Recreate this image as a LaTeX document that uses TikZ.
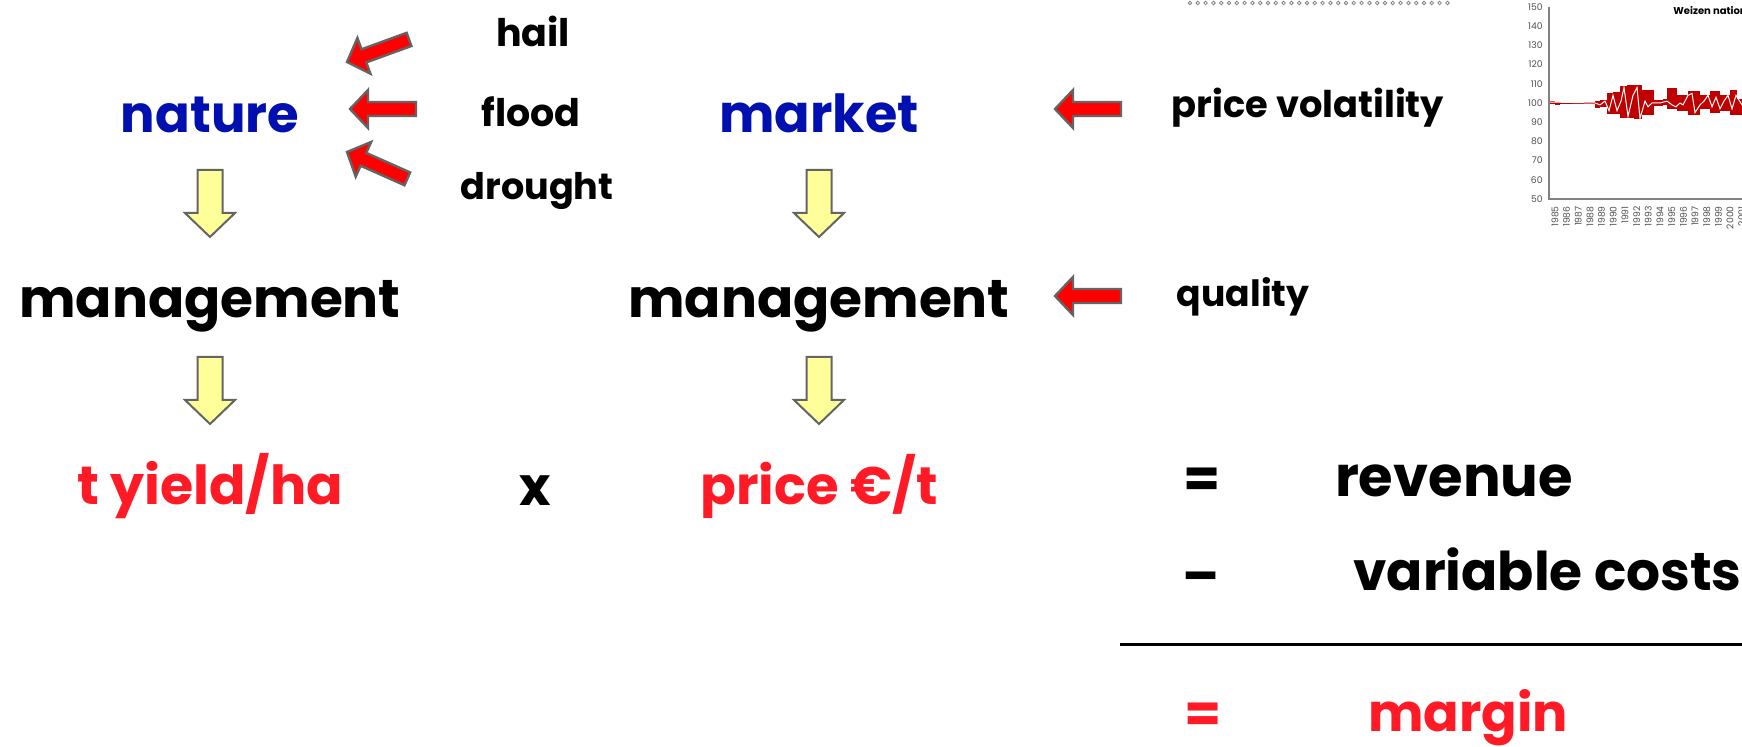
\documentclass[tikz,border=0pt]{standalone}
\usepackage{fontspec}
\setmainfont{Poppins}
\definecolor{natblue}{RGB}{0,15,175}
\definecolor{txtred}{RGB}{255,26,38}
\definecolor{arrred}{RGB}{255,0,0}
\definecolor{arrgray}{RGB}{100,100,100}
\definecolor{yel}{RGB}{255,255,153}
\definecolor{chartred}{RGB}{192,0,0}
\definecolor{axgray}{RGB}{130,130,130}
\definecolor{labgray}{RGB}{80,80,80}
\newcommand{\fsz}[1]{\bfseries\fontsize{#1}{#1}\selectfont}
\begin{document}
\begin{tikzpicture}[x=0.5pt,y=-0.5pt,
  big/.style={inner sep=0pt,anchor=base,font=\fsz{26.7}},
  small/.style={inner sep=0pt,anchor=base,font=\fsz{18.8}},
  redarr/.style={fill=arrred,draw=arrgray,line width=1.2pt,line join=miter},
  yelarr/.style={fill=yel,draw=arrgray,line width=1pt,line join=miter},
  ticklab/.style={inner sep=0pt,anchor=east,text=labgray,font=\fontsize{4.6}{5}\selectfont},
  yrlab/.style={inner sep=0pt,anchor=east,rotate=90,text=labgray,font=\fontsize{4.6}{5}\selectfont},
  pics/redarrow/.style={code={\draw[redarr] (0,0) -- (18,-19) -- (18,-7) -- (66,-7) -- (66,7) -- (18,7) -- (18,19) -- cycle;}},
  pics/yelarrow/.style={code={\draw[yelarr] (-12.5,0) -- (12.5,0) -- (12.5,43) -- (25,43) -- (0,67) -- (-25,43) -- (-12.5,43) -- cycle;}}
]
\clip (0,0) rectangle (1742,747);
\fill[white] (0,0) rectangle (1742,747);

% left column
\node[big,text=natblue,font=\fsz{25.6}] (nature) at (210,133) {nature};
\node[big] (mgmtL) at (210,318) {management};
\node[big,text=txtred,font=\fsz{26.9}] (yield) at (210,505) {t yield/ha};
\pic at (210,170) {yelarrow};
\pic at (210,357) {yelarrow};

% weather
\node[small,font=\fsz{19}] (hail) at (533,47) {hail};
\node[small,font=\fsz{19}] (flood) at (531,127) {flood};
\node[small,font=\fsz{18.3}] (drought) at (537,200) {drought};
\pic[rotate=20] at (347,62) {redarrow};
\pic at (350,109) {redarrow};
\pic[rotate=-24] at (347,152) {redarrow};

% times
\node[big] (times) at (535,506) {x};

% middle column
\node[big,text=natblue,font=\fsz{26.2}] (market) at (819,133) {market};
\node[big] (mgmtR) at (819,318) {management};
\node[big,text=txtred,font=\fsz{26.4}] (price) at (819,505) {price €/t};
\pic at (819,170) {yelarrow};
\pic at (819,357) {yelarrow};

% right side
\pic at (1055,109) {redarrow};
\pic at (1055,296) {redarrow};
\node[small,font=\fsz{18.4}] (vol) at (1308,118) {price volatility};
\node[small,font=\fsz{18.1}] (qual) at (1243,307) {quality};

\node[big,anchor=center] (eq1) at (1202,483) {=};
\node[big,font=\fsz{28}] (rev) at (1454,497) {revenue};
\node[big,anchor=center] (minus) at (1201,583) {–};
\node[big,anchor=base west] (varc) at (1353,591) {variable costs};
\coordinate (lineL) at (1120,645);
\coordinate (lineR) at (1742,645);
\draw[line width=1.5pt] (lineL) -- (lineR);
\node[big,anchor=center,text=txtred] (eq2) at (1203,718) {=};
\node[big,text=txtred,font=\fsz{26.2}] (margin) at (1468,732) {margin};

% tiny circles at top
\foreach \i in {0,...,33} \draw[axgray,line width=0.4pt] ({1190+\i*7.8},3) circle[radius=0.9pt];

% chart
\foreach \xa/\xb/\lo/\hi in {1549/1555/99.5/101,1555/1560/99/100.3,1560/1595/99.7/100.5,1595/1600/97.5/101,1600/1607/98/101.5,1607/1613/94.5/105,1613/1620/94.5/105.5,1620/1627/92/109,1627/1634/92/109.5,1634/1642/91.5/109.5,1642/1648/94/107,1648/1654/94/107,1654/1663/98.5/101.5,1663/1667/99/102,1667/1677/97/108,1677/1688/96/104,1688/1700/94/106.5,1700/1710/97/104,1710/1720/95/106,1720/1730/96/104,1730/1737/94/107,1737/1742/94/102}
  \fill[chartred] (\xa,{295-1.92*\hi}) rectangle (\xb,{295-1.92*\lo});
\draw[white,line width=0.5pt] (1549,102) -- (1595,103) -- (1600,104.9) -- (1605,101.1) -- (1609,110.7) -- (1613,95.3) -- (1617,110.7) -- (1621,101.1) -- (1624,87.6) -- (1628,116.4) -- (1633,95.3) -- (1637,87.6) -- (1640,118.4) -- (1645,101.1) -- (1648,106.8) -- (1652,103) -- (1660,103) -- (1667,101.1) -- (1672,104.9) -- (1676,106.8) -- (1680,103) -- (1683,104.9) -- (1688,95.3) -- (1692,93.4) -- (1695,112.6) -- (1700,104.9) -- (1704,101.1) -- (1708,95.3) -- (1712,106.8) -- (1716,97.2) -- (1720,108.8) -- (1724,101.1) -- (1728,95.3) -- (1732,108.8) -- (1736,95.3) -- (1742,104.9);
\coordinate (axtop) at (1549,7);
\coordinate (axorig) at (1549,199);
\coordinate (axright) at (1742,199);
\draw[axgray,line width=0.6pt] (axtop) -- (axorig) -- (axright);
\foreach \v in {50,60,...,150} \node[ticklab] (tick\v) at (1543,{295-1.92*\v}) {\v};
\foreach \i in {0,...,16} {\pgfmathtruncatemacro\yr{1985+\i}\node[yrlab] (yr\i) at ({1555+\i*11.67},206) {\yr};}
\node[inner sep=0pt,anchor=west,font=\bfseries\fontsize{5}{6}\selectfont] (title) at (1673,11) {Weizen nation};
\end{tikzpicture}
\end{document}
